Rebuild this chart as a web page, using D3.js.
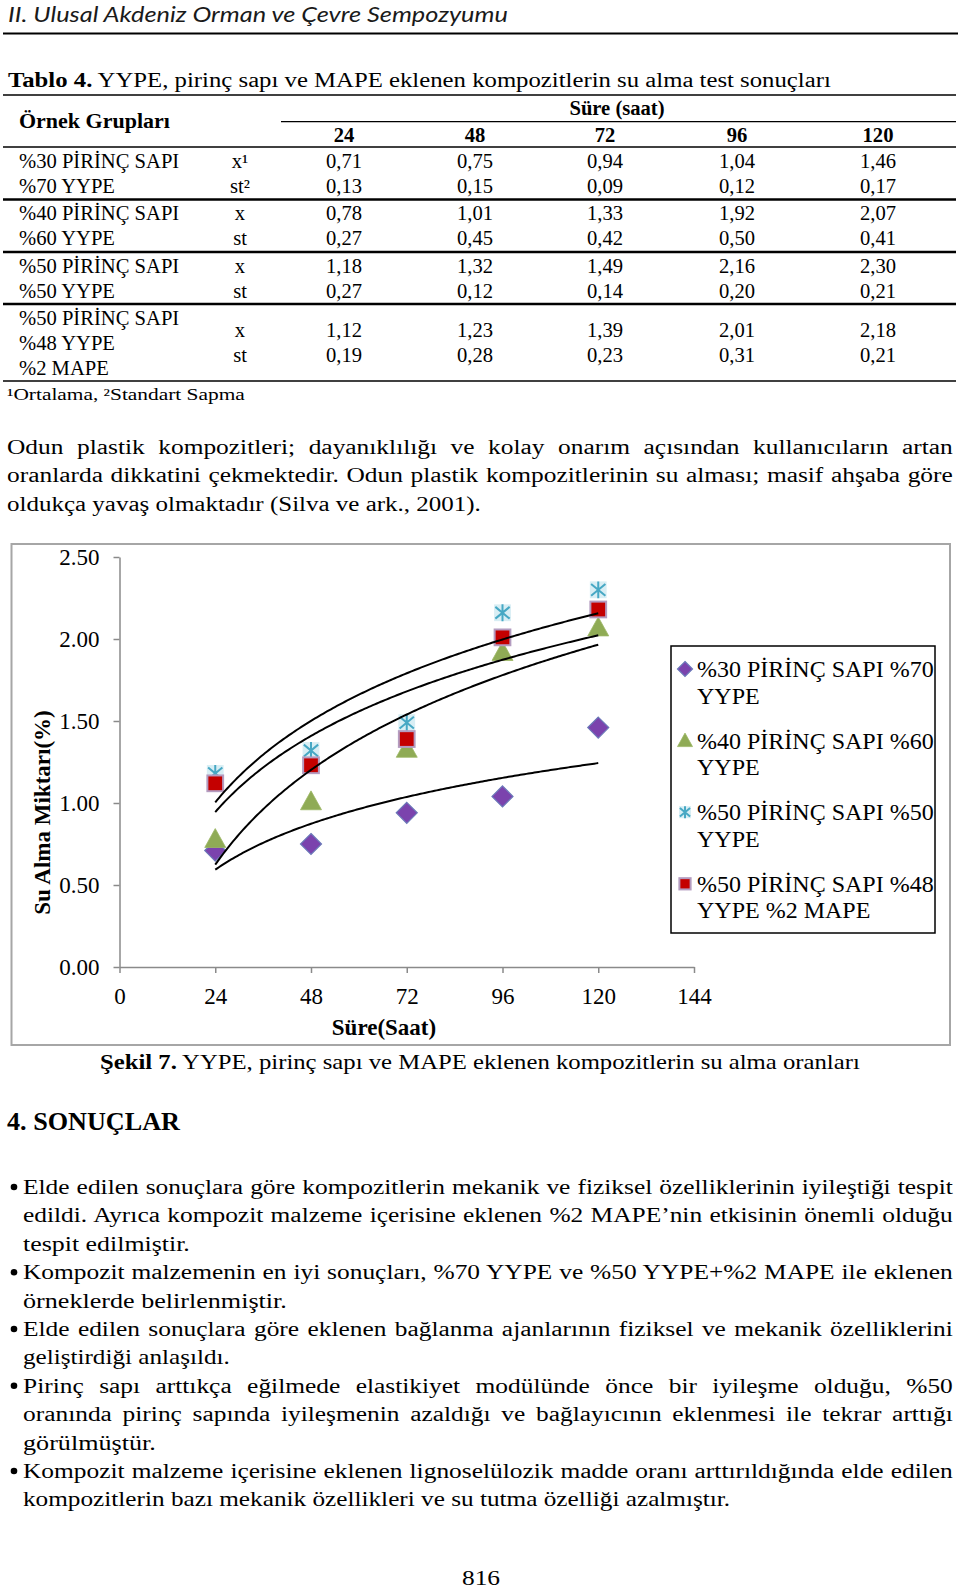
<!DOCTYPE html>
<html><head><meta charset="utf-8">
<script src="https://cdn.jsdelivr.net/npm/d3@7"></script>
<style>html,body{margin:0;padding:0;background:#fff;} svg{display:block}</style>
</head><body>
<svg id="page" width="960" height="1589"></svg>
<script>
// ---------- DATA ----------
const hours = [24, 48, 72, 96, 120];
const mean30 = [0.71, 0.75, 0.94, 1.04, 1.46];
const sd30   = [0.13, 0.15, 0.09, 0.12, 0.17];
const mean40 = [0.78, 1.01, 1.33, 1.92, 2.07];
const sd40   = [0.27, 0.45, 0.42, 0.50, 0.41];
const mean50 = [1.18, 1.32, 1.49, 2.16, 2.30];
const sd50   = [0.27, 0.12, 0.14, 0.20, 0.21];
const mean50m = [1.12, 1.23, 1.39, 2.01, 2.18];
const sd50m   = [0.19, 0.28, 0.23, 0.31, 0.21];
const groupLabels = [["%30 PİRİNÇ SAPI", "%70 YYPE"], ["%40 PİRİNÇ SAPI", "%60 YYPE"], ["%50 PİRİNÇ SAPI", "%50 YYPE"], ["%50 PİRİNÇ SAPI", "%48 YYPE", "%2 MAPE"]];
const legendLabels = [["%30 PİRİNÇ SAPI %70", "YYPE"], ["%40 PİRİNÇ SAPI %60", "YYPE"], ["%50 PİRİNÇ SAPI %50", "YYPE"], ["%50 PİRİNÇ SAPI %48", "YYPE %2 MAPE"]];
const yTickValues = [0, 0.5, 1.0, 1.5, 2.0, 2.5];
const xTickValues = [0, 24, 48, 72, 96, 120, 144];
const means = [mean30, mean40, mean50, mean50m];
const sds = [sd30, sd40, sd50, sd50m];

const paraLines = [
  "Odun plastik kompozitleri; dayanıklılığı ve kolay onarım açısından kullanıcıların artan",
  "oranlarda dikkatini çekmektedir. Odun plastik kompozitlerinin su alması; masif ahşaba göre",
  "oldukça yavaş olmaktadır (Silva ve ark., 2001)."
];
const bullets = [
  ["Elde edilen sonuçlara göre kompozitlerin mekanik ve fiziksel özelliklerinin iyileştiği tespit",
   "edildi. Ayrıca kompozit malzeme içerisine eklenen %2 MAPE’nin etkisinin önemli olduğu",
   "tespit edilmiştir."],
  ["Kompozit malzemenin en iyi sonuçları, %70 YYPE ve %50 YYPE+%2 MAPE ile eklenen",
   "örneklerde belirlenmiştir."],
  ["Elde edilen sonuçlara göre eklenen bağlanma ajanlarının fiziksel ve mekanik özelliklerini",
   "geliştirdiği anlaşıldı."],
  ["Pirinç sapı arttıkça eğilmede elastikiyet modülünde önce bir iyileşme olduğu, %50",
   "oranında pirinç sapında iyileşmenin azaldığı ve bağlayıcının eklenmesi ile tekrar arttığı",
   "görülmüştür."],
  ["Kompozit malzeme içerisine eklenen lignoselülozik madde oranı arttırıldığında elde edilen",
   "kompozitlerin bazı mekanik özellikleri ve su tutma özelliği azalmıştır."]
];

// ---------- HELPERS ----------
const SERIF = "'Liberation Serif','Times New Roman',serif";
const svg = d3.select("#page");
svg.append("rect").attr("width", 960).attr("height", 1589).attr("fill", "#fff");

// estimate the glyph width ratio (Cambria vs. substitute) from unjustified lines of known width
const probe = svg.append("text").attr("font-family", SERIF).attr("font-size", 20);
function natLen(s) { probe.text(s); return probe.node().getComputedTextLength(); }
const knownLines = [[paraLines[2], 474], [bullets[0][2], 167], [bullets[1][1], 264], [bullets[2][1], 207], [bullets[3][2], 133], [bullets[4][1], 707.5]];
const K = d3.sum(knownLines, d => d[1]) / d3.sum(knownLines, d => natLen(d[0]));
probe.remove();
const KT = 1.03; // table text

function put(g, parts, x, y, o = {}) {
  const t = g.append("text")
    .attr("font-family", o.family || SERIF)
    .attr("font-size", o.size || 20)
    .attr("fill", o.fill || "#000")
    .attr("text-anchor", o.anchor || "start");
  if (o.weight) t.attr("font-weight", o.weight);
  if (o.style) t.attr("font-style", o.style);
  if (typeof parts === "string") t.text(parts);
  else parts.forEach(p => t.append("tspan").attr("font-weight", p.b ? "bold" : null).text(p.t));
  const L = t.node().getComputedTextLength();
  let k = o.k || K;
  if (o.width && !o.justify) k = o.width / L;
  if (o.justify && L * k > o.width) k = o.width / L;
  t.attr("transform", `translate(${x},${y}) scale(${k},1)`);
  if (o.justify) {
    const str = typeof parts === "string" ? parts : parts.map(p => p.t).join("");
    const n = (str.match(/ /g) || []).length;
    const extra = (o.width / k - L) / n;
    if (n && extra > 0) t.style("word-spacing", extra + "px");
  }
  return t;
}
function rule(x1, x2, y, w) {
  svg.append("line").attr("x1", x1).attr("x2", x2).attr("y1", y).attr("y2", y)
    .attr("stroke", "#000").attr("stroke-width", w);
}

// ---------- HEADER ----------
put(svg, "II. Ulusal Akdeniz Orman ve Çevre Sempozyumu", 8, 21.5,
  { family: "Lato,'Open Sans',sans-serif", style: "italic", size: 21, width: 500, fill: "#1a1a1a" });
rule(3, 958, 33.5, 2);

put(svg, [{ t: "Tablo 4.", b: true }, { t: " YYPE, pirinç sapı ve MAPE eklenen kompozitlerin su alma test sonuçları" }],
  8, 87, { size: 20.5, width: 823 });

// ---------- TABLE ----------
const tbl = svg.append("g");
const colX = [344, 475, 605, 737, 878];
rule(3, 956, 95, 1.5);
put(tbl, "Örnek Grupları", 19, 128.3, { size: 20, weight: "bold", width: 151 });
put(tbl, "Süre (saat)", 617, 115, { size: 20, weight: "bold", anchor: "middle", k: KT });
rule(281, 956, 121.7, 1.2);
hours.forEach((h, i) => put(tbl, String(h), colX[i], 141.7, { size: 20, weight: "bold", anchor: "middle", k: KT }));
rule(3, 956, 147, 1.5);

const fmt = v => d3.format(".2f")(v).replace(".", ",");
const groupRows = [[168.3, 193.3], [220, 245], [272.5, 297.5], [337, 362]];
const labelRows = [[168.3, 193.3], [220, 245], [272.5, 297.5], [324.5, 349.5, 374.5]];
const groupRules = [199.5, 252, 304];
const rowTags = [["x¹", "st²"], ["x", "st"], ["x", "st"], ["x", "st"]];
means.forEach((m, g) => {
  groupLabels[g].forEach((lab, j) => put(tbl, lab, 19, labelRows[g][j], { size: 20, k: KT }));
  put(tbl, rowTags[g][0], 240, groupRows[g][0], { size: 20, anchor: "middle", k: KT });
  put(tbl, rowTags[g][1], 240, groupRows[g][1], { size: 20, anchor: "middle", k: KT });
  m.forEach((v, i) => put(tbl, fmt(v), colX[i], groupRows[g][0], { size: 20, anchor: "middle", k: KT }));
  sds[g].forEach((v, i) => put(tbl, fmt(v), colX[i], groupRows[g][1], { size: 20, anchor: "middle", k: KT }));
  if (g < 3) rule(3, 956, groupRules[g], 2.5);
});
rule(3, 956, 381, 1.5);
put(tbl, "¹Ortalama, ²Standart Sapma", 7, 399.5, { size: 16, width: 238 });

// ---------- PARAGRAPH ----------
paraLines.forEach((s, i) => {
  const last = i === paraLines.length - 1;
  put(svg, s, 7, 454 + 28.4 * i, { size: 20, width: last ? 474 : 946, justify: !last });
});

// ---------- CHART ----------
const ch = svg.append("g");
ch.append("rect").attr("x", 11.5).attr("y", 544).attr("width", 938.5).attr("height", 501)
  .attr("fill", "#fff").attr("stroke", "#a6a6a6").attr("stroke-width", 2);
const x = d3.scaleLinear().domain([0, 144]).range([119.5, 694]);
const y = d3.scaleLinear().domain([0, 2.5]).range([967, 557]);

const yAxis = ch.append("g").attr("transform", "translate(119.5,0)")
  .call(d3.axisLeft(y).tickValues(yTickValues).tickFormat(d3.format(".2f")).tickSize(6).tickSizeOuter(0).tickPadding(14));
const xAxis = ch.append("g").attr("transform", "translate(0,967)")
  .call(d3.axisBottom(x).tickValues(xTickValues).tickFormat(d3.format("d")).tickSize(6).tickSizeOuter(0).tickPadding(14));
[yAxis, xAxis].forEach(a => {
  a.selectAll("path,line").attr("stroke", "#8a8a8a").attr("stroke-width", 1.5);
  a.selectAll("text").attr("font-family", SERIF).attr("font-size", 23).attr("fill", "#000");
});
yAxis.selectAll("text").attr("dy", "0.34em");
xAxis.selectAll("text").attr("dy", "0.72em");

ch.append("text").attr("transform", "translate(50,812.5) rotate(-90)").attr("text-anchor", "middle")
  .attr("font-family", SERIF).attr("font-size", 23).attr("font-weight", "bold").text("Su Alma Miktarı(%)");
ch.append("text").attr("x", 384).attr("y", 1035).attr("text-anchor", "middle")
  .attr("font-family", SERIF).attr("font-size", 23).attr("font-weight", "bold").text("Süre(Saat)");

// markers
function drawMarker(g, type, cx, cy, s) {
  const m = g.append("g").attr("transform", `translate(${cx},${cy})`);
  if (type === 0) {
    m.append("path").attr("d", `M0,${-s}L${s},0L0,${s}L${-s},0Z`)
      .attr("fill", "#7b43ad").attr("stroke", "#6a78b8").attr("stroke-width", 1.2);
  } else if (type === 1) {
    m.append("path").attr("d", `M0,${-s}L${s},${s * 0.8}L${-s},${s * 0.8}Z`)
      .attr("fill", "#8fab55").attr("stroke", "#9db866").attr("stroke-width", 0.8);
  } else if (type === 2) {
    const r = s * 0.8;
    m.append("rect").attr("x", -r).attr("y", -r).attr("width", 2 * r).attr("height", 2 * r).attr("fill", "#d8eef4");
    m.append("path").attr("d", `M0,${-r}V${r}M${-r * 0.85},${-r * 0.7}L${r * 0.85},${r * 0.7}M${-r * 0.85},${r * 0.7}L${r * 0.85},${-r * 0.7}`)
      .attr("stroke", "#47a8c4").attr("stroke-width", 2).attr("fill", "none");
  } else {
    const r = s * 0.75;
    m.append("rect").attr("x", -r).attr("y", -r).attr("width", 2 * r).attr("height", 2 * r)
      .attr("fill", "#c40000").attr("stroke", "#b49cc0").attr("stroke-width", 2);
  }
}
means.forEach((m, si) => {
  m.forEach((v, i) => drawMarker(ch, si, x(hours[i]), y(v), 10.5));
});

// logarithmic trendlines (least squares fit of each series)
function logFit(xs, ys) {
  const lx = xs.map(Math.log);
  const mx = d3.mean(lx), my = d3.mean(ys);
  const a = d3.sum(lx.map((v, i) => (v - mx) * (ys[i] - my))) / d3.sum(lx.map(v => (v - mx) ** 2));
  return { a, b: my - a * mx };
}
const line = d3.line().x(d => x(d[0])).y(d => y(d[1]));
means.forEach(m => {
  const f = logFit(hours, m);
  const pts = d3.range(hours[0], hours[hours.length - 1] + 0.001, 0.5).map(h => [h, f.a * Math.log(h) + f.b]);
  ch.append("path").attr("d", line(pts)).attr("fill", "none").attr("stroke", "#000").attr("stroke-width", 2);
});

// legend
const lg = ch.append("g");
lg.append("rect").attr("x", 671).attr("y", 646).attr("width", 264).attr("height", 287)
  .attr("fill", "#fff").attr("stroke", "#000").attr("stroke-width", 1.5);
legendLabels.forEach((lab, i) => {
  const by = 677 + 71.6 * i;
  drawMarker(lg, i, 685, by - 8, 7.5);
  lab.forEach((s, j) => lg.append("text").attr("x", 697).attr("y", by + 26.6 * j)
    .attr("font-family", SERIF).attr("font-size", 24).attr("fill", "#000").text(s));
});

// ---------- CAPTION & CONCLUSIONS ----------
put(svg, [{ t: "Şekil 7.", b: true }, { t: " YYPE, pirinç sapı ve MAPE eklenen kompozitlerin su alma oranları" }],
  100, 1069, { size: 20, width: 760 });
put(svg, "4. SONUÇLAR", 7, 1130, { size: 26, weight: "bold", width: 173 });

const lastEnds = [190, 287, 230, 156, 730.5];
let li = 0;
bullets.forEach((b, bi) => {
  b.forEach((s, j) => {
    const yy = 1194 + 28.4 * li;
    if (j === 0) svg.append("circle").attr("cx", 14).attr("cy", yy - 7).attr("r", 3.3).attr("fill", "#000");
    const last = j === b.length - 1;
    put(svg, s, 23, yy, { size: 20, width: last ? lastEnds[bi] - 23 : 930, justify: !last });
    li++;
  });
});
put(svg, "816", 481, 1585, { size: 20, anchor: "middle" });
</script>
</body></html>
